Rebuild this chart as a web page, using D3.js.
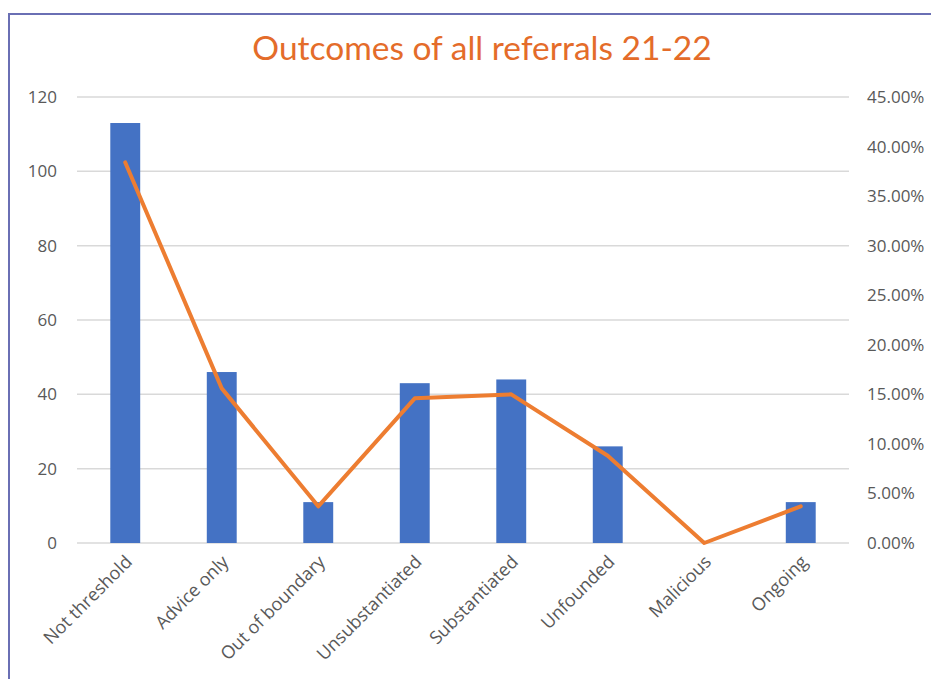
<!DOCTYPE html>
<html>
<head>
<meta charset="utf-8">
<script src="https://cdn.jsdelivr.net/npm/d3@7"></script>
<style>
  body { margin: 0; background: #fff; }
</style>
</head>
<body>
<div id="chart"></div>
<script>
var categories = ["Not threshold", "Advice only", "Out of boundary", "Unsubstantiated",
                  "Substantiated", "Unfounded", "Malicious", "Ongoing"];
var counts = [113, 46, 11, 43, 44, 26, 0, 11];
var percents = [38.4, 15.6, 3.7, 14.6, 15.0, 8.8, 0, 3.7];
var leftTicks = [0, 20, 40, 60, 80, 100, 120];
var rightTicks = [0, 5, 10, 15, 20, 25, 30, 35, 40, 45];

var width = 931, height = 679;
var plotLeft = 77, plotRight = 849, plotTop = 97, plotBottom = 543;

var svg = d3.select("#chart").append("svg")
  .attr("width", width)
  .attr("height", height);

// frame
svg.append("rect")
  .attr("x", 9)
  .attr("y", 14)
  .attr("width", 940)
  .attr("height", 700)
  .style("fill", "none")
  .style("stroke", "#6a6fb4")
  .style("stroke-width", 2);

svg.append("text")
  .attr("x", 482)
  .attr("y", 60)
  .style("font-family", "Lato, sans-serif")
  .style("font-size", "33.5px")
  .style("text-anchor", "middle")
  .style("fill", "#e46c2a")
  .text("Outcomes of all referrals 21-22");

var x = d3.scaleBand()
  .domain(categories)
  .range([plotLeft, plotRight])
  .paddingInner(0.69)
  .paddingOuter(0.345);

var xc = d3.scaleBand().domain(categories).range([plotLeft, plotRight]);

var y = d3.scaleLinear().domain([0, 120]).range([plotBottom, plotTop]);
var y2 = d3.scaleLinear().domain([0, 45]).range([plotBottom, plotTop]);

// gridlines
svg.append("g")
  .selectAll("line")
  .data(leftTicks)
  .join("line")
  .attr("x1", plotLeft)
  .attr("x2", plotRight)
  .attr("y1", function(d) { return y(d); })
  .attr("y2", function(d) { return y(d); })
  .style("stroke", "#d9d9d9")
  .style("stroke-width", 1.5);

svg.append("g")
  .selectAll("text")
  .data(leftTicks)
  .join("text")
  .attr("x", 57)
  .attr("y", function(d) { return y(d) + 6; })
  .style("font-family", "'Open Sans', sans-serif")
  .style("font-size", "17px")
  .style("text-anchor", "end")
  .style("fill", "#595959")
  .text(function(d) { return d; });

svg.append("g")
  .selectAll("text")
  .data(rightTicks)
  .join("text")
  .attr("x", 867)
  .attr("y", function(d) { return y2(d) + 6; })
  .style("font-family", "'Open Sans', sans-serif")
  .style("font-size", "17px")
  .style("fill", "#595959")
  .text(function(d) { return d.toFixed(2) + "%"; });

// bars
svg.append("g")
  .selectAll("rect")
  .data(categories)
  .join("rect")
  .attr("x", function(d) { return x(d); })
  .attr("width", x.bandwidth())
  .attr("y", function(d, i) { return y(counts[i]); })
  .attr("height", function(d, i) { return plotBottom - y(counts[i]); })
  .style("fill", "#4472c4");

// percentage line
var line = d3.line()
  .x(function(d, i) { return xc(categories[i]) + xc.bandwidth() / 2; })
  .y(function(d) { return y2(d); });

svg.append("path")
  .datum(percents)
  .attr("d", line)
  .style("fill", "none")
  .style("stroke", "#ed7d31")
  .style("stroke-width", 4)
  .style("stroke-linejoin", "round")
  .style("stroke-linecap", "round");

// category labels
svg.append("g")
  .selectAll("text")
  .data(categories)
  .join("text")
  .attr("transform", function(d) {
    return "translate(" + (xc(d) + xc.bandwidth() / 2 + 8) + "," + 563 + ") rotate(-45)";
  })
  .style("font-family", "'Open Sans', sans-serif")
  .style("font-size", "18px")
  .style("text-anchor", "end")
  .style("fill", "#595959")
  .text(function(d) { return d; });
</script>
</body>
</html>
